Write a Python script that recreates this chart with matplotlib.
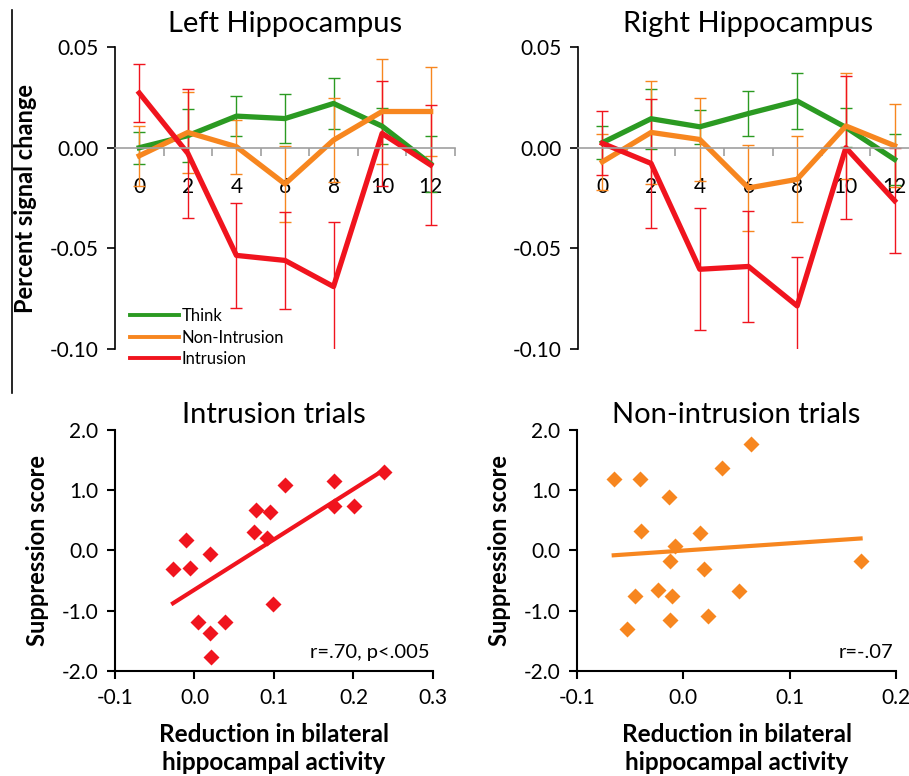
import matplotlib
matplotlib.use("Agg")
import matplotlib.pyplot as plt
from matplotlib.lines import Line2D
import numpy as np

plt.rcParams['font.family'] = ['Lato', 'DejaVu Sans']

# time points (s)
time = [0, 2, 4, 6, 8, 10, 12]

# left hippocampus: mean and error per condition
left_think = [0.000, 0.006, 0.0157, 0.0145, 0.022, 0.0107, -0.008]
left_think_err = [0.008, 0.013, 0.010, 0.012, 0.0127, 0.009, 0.014]
left_nonint = [-0.004, 0.0076, 0.0005, -0.018, 0.0038, 0.018, 0.018]
left_nonint_err = [0.015, 0.020, 0.0135, 0.019, 0.021, 0.026, 0.022]
left_intr = [0.0272, -0.0028, -0.0535, -0.056, -0.069, 0.0071, -0.0086]
left_intr_err = [0.0145, 0.032, 0.026, 0.024, 0.032, 0.026, 0.030]

# right hippocampus
right_think = [0.0025, 0.0144, 0.0104, 0.017, 0.0232, 0.0101, -0.0058]
right_think_err = [0.0083, 0.015, 0.0085, 0.0112, 0.0137, 0.0095, 0.0127]
right_nonint = [-0.007, 0.0076, 0.0041, -0.020, -0.0157, 0.0108, 0.001]
right_nonint_err = [0.014, 0.0257, 0.0204, 0.0215, 0.0213, 0.0265, 0.0205]
right_intr = [0.0022, -0.0078, -0.0604, -0.059, -0.0786, 0.000, -0.0263]
right_intr_err = [0.0159, 0.032, 0.0304, 0.0277, 0.0245, 0.0356, 0.026]

# scatter: intrusion trials
intr_x = [-0.027, -0.011, -0.006, 0.019, 0.004, 0.019, 0.021, 0.039, 0.075,
          0.078, 0.095, 0.091, 0.099, 0.114, 0.175, 0.176, 0.201, 0.238]
intr_y = [-0.31, 0.17, -0.29, -0.06, -1.18, -1.37, -1.76, -1.18, 0.30,
          0.68, 0.64, 0.20, -0.89, 1.08, 1.15, 0.74, 0.74, 1.31]

# scatter: non-intrusion trials
non_x = [-0.0655, -0.041, -0.0134, -0.0394, 0.0161, -0.0081, -0.0121, 0.0196, -0.0457,
         -0.0234, -0.0103, -0.0526, -0.0128, 0.0233, 0.0525, 0.0359, 0.0632, 0.1667]
non_y = [1.18, 1.18, 0.88, 0.32, 0.29, 0.08, -0.18, -0.30, -0.75,
         -0.65, -0.75, -1.30, -1.15, -1.08, -0.68, 1.37, 1.77, -0.18]

GREEN = '#2b9a22'
ORANGE = '#f7861f'
RED = '#f0141e'

fig = plt.figure(figsize=(9.09, 7.76), dpi=100)


def timecourse(ax, series, title):
    for mean, err, col in series:
        ax.errorbar(time, mean, yerr=err, color=col, lw=3.8, elinewidth=1.0,
                    capsize=4, capthick=1.0)
    ax.set_xlim(-1, 13)
    ax.set_ylim(-0.10, 0.05)
    ax.set_yticks([0.05, 0.0, -0.05, -0.10])
    ax.set_yticklabels(['0.05', '0.00', '-0.05', '-0.10'])
    for s in ['top', 'right']:
        ax.spines[s].set_visible(False)
    ax.spines['bottom'].set_position(('data', 0))
    ax.spines['bottom'].set_color('#a0a0a0')
    ax.spines['bottom'].set_linewidth(1.2)
    ax.spines['left'].set_linewidth(1.2)
    ax.set_xticks(time)
    ax.set_xticks(np.arange(1, 14, 2), minor=True)
    ax.tick_params(axis='x', which='major', length=0, pad=21, labelsize=15)
    ax.tick_params(axis='x', which='minor', length=6, color='#a0a0a0', width=1.2)
    ax.tick_params(axis='y', length=6, width=1.2, pad=6, labelsize=15)
    ax.set_title(title, fontsize=21, pad=11)


ax1 = fig.add_axes([0.1265, 0.5503, 0.374, 0.389])
timecourse(ax1, [(left_think, left_think_err, GREEN),
                 (left_nonint, left_nonint_err, ORANGE),
                 (left_intr, left_intr_err, RED)], 'Left Hippocampus')
ax1.set_ylabel('Percent signal change', fontsize=17, fontweight='bold', labelpad=9)
handles = [Line2D([], [], color=c, lw=2.8) for c in (GREEN, ORANGE, RED)]
ax1.legend(handles, ['Think', 'Non-Intrusion', 'Intrusion'], loc='upper left',
           bbox_to_anchor=(0.045, 0.135), frameon=False, fontsize=12,
           handlelength=2.9, handletextpad=0.2, labelspacing=0.32,
           borderpad=0, borderaxespad=0)

ax2 = fig.add_axes([0.6359, 0.5503, 0.375, 0.389])
timecourse(ax2, [(right_think, right_think_err, GREEN),
                 (right_nonint, right_nonint_err, ORANGE),
                 (right_intr, right_intr_err, RED)], 'Right Hippocampus')


def scatter(ax, x, y, col, xlim, title, note):
    ax.plot(x, y, 'D', color=col, ms=8.5, mec='none')
    k, b = np.polyfit(x, y, 1)
    xs = np.array([min(x), max(x)])
    ax.plot(xs, k * xs + b, color=col, lw=3)
    ax.set_xlim(*xlim)
    ax.set_ylim(-2, 2)
    ax.set_xticks(np.arange(xlim[0], xlim[1] + 0.001, 0.1))
    ax.set_xticklabels(['%.1f' % v for v in np.arange(xlim[0], xlim[1] + 0.001, 0.1)])
    ax.set_yticks([2, 1, 0, -1, -2])
    ax.set_yticklabels(['2.0', '1.0', '0.0', '-1.0', '-2.0'])
    for s in ['top', 'right']:
        ax.spines[s].set_visible(False)
    for s in ['left', 'bottom']:
        ax.spines[s].set_linewidth(1.5)
    ax.tick_params(length=6, width=1.5, pad=6, labelsize=15)
    ax.set_title(title, fontsize=21, pad=5)
    ax.set_ylabel('Suppression score', fontsize=17, fontweight='bold', labelpad=9)
    ax.set_xlabel('Reduction in bilateral\nhippocampal activity', fontsize=17.5,
                  fontweight='bold', labelpad=11, linespacing=1.25)
    ax.text(0.99, 0.075, note, transform=ax.transAxes, ha='right', va='center',
            fontsize=14.5)


ax3 = fig.add_axes([0.1265, 0.1353, 0.3498, 0.3106])
scatter(ax3, intr_x, intr_y, RED, (-0.1, 0.3), 'Intrusion trials', 'r=.70, p<.005')

ax4 = fig.add_axes([0.6348, 0.1353, 0.3509, 0.3106])
scatter(ax4, non_x, non_y, ORANGE, (-0.1, 0.2), 'Non-intrusion trials', 'r=-.07')

# stray vertical rule on the left edge of the original figure
fig.add_artist(Line2D([12 / 909, 12 / 909], [1 - 10 / 776, 1 - 393 / 776],
                      color='black', lw=1.2))

fig.savefig('out.png', dpi=100)
